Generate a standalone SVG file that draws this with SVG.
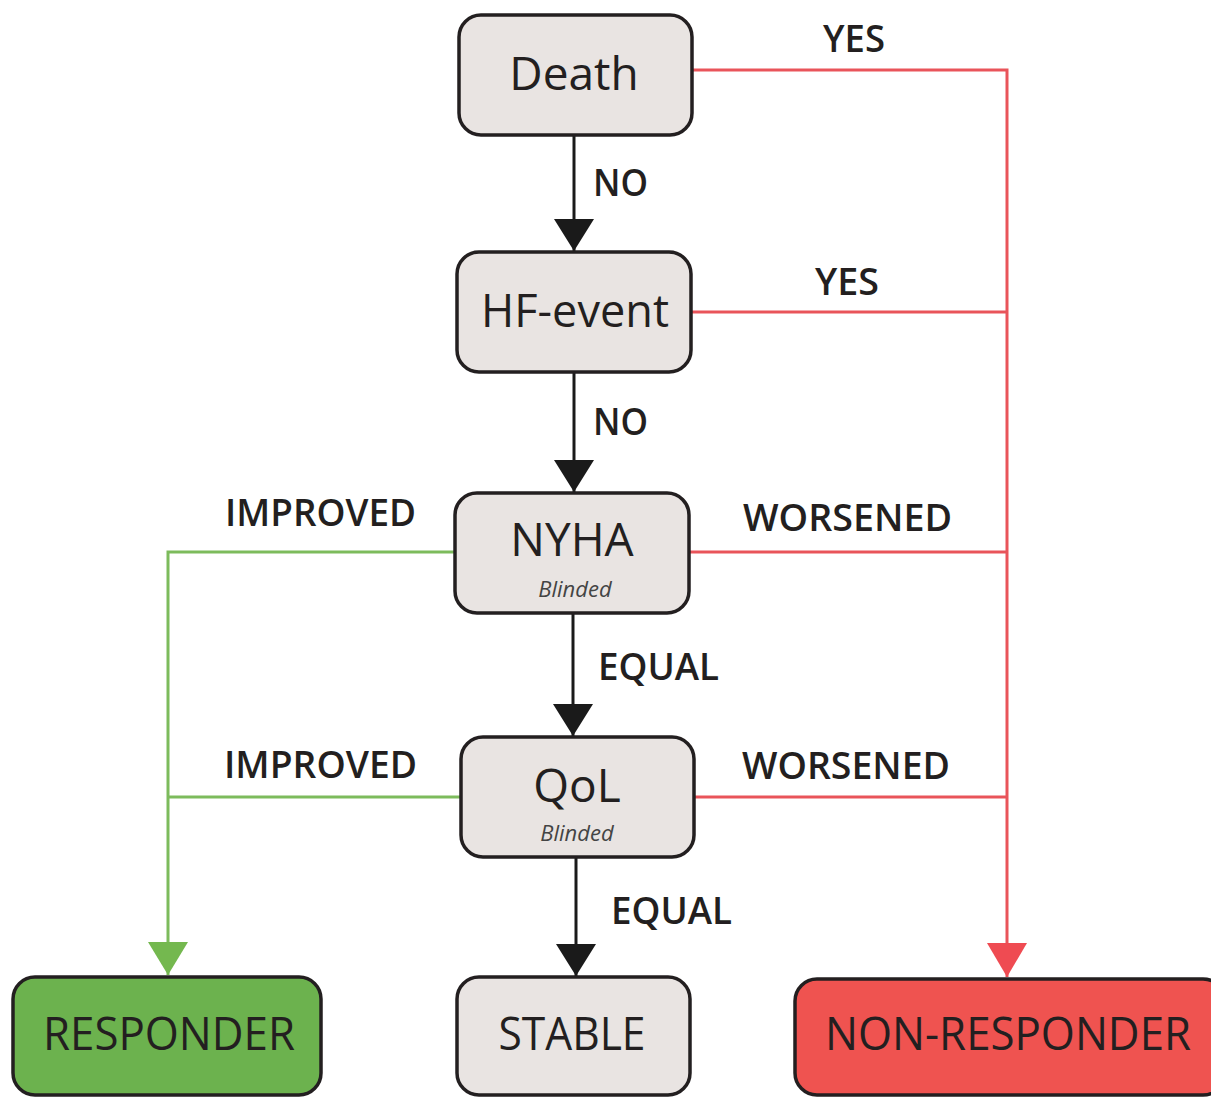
<svg xmlns="http://www.w3.org/2000/svg" width="1211" height="1097" viewBox="0 0 1211 1097">
<style>
.box{fill:#e9e4e2;stroke:#231f20;stroke-width:3.5}
.resp{fill:#6cb24e;stroke:#231f20;stroke-width:3.5}
.nonresp{fill:#ef5350;stroke:#231f20;stroke-width:3.5}
.t{font-family:"Open Sans","Noto Sans",sans-serif;fill:#231f20;text-anchor:middle}
.big{font-size:46px}
.small{font-size:22px;font-style:italic;fill:#444}
.lab{font-family:"Open Sans","Noto Sans",sans-serif;font-weight:600;font-size:37px;fill:#231f20}
.blk{stroke:#1a1a1a;stroke-width:3;fill:none}
.red{stroke:#e9545a;stroke-width:3;fill:none}
.grn{stroke:#7dbb5c;stroke-width:3;fill:none}
</style>
<defs>
<marker id="ab" viewBox="0 0 32 40" refX="32" refY="20" markerWidth="32" markerHeight="40" markerUnits="userSpaceOnUse" orient="auto"><path d="M0,0 L32,20 L0,40 Z" fill="#1a1a1a"/></marker>
<marker id="ar" viewBox="0 0 34 40" refX="34" refY="20" markerWidth="34" markerHeight="40" markerUnits="userSpaceOnUse" orient="auto"><path d="M0,0 L34,20 L0,40 Z" fill="#ef4b52"/></marker>
<marker id="ag" viewBox="0 0 33 40" refX="33" refY="20" markerWidth="33" markerHeight="40" markerUnits="userSpaceOnUse" orient="auto"><path d="M0,0 L33,20 L0,40 Z" fill="#74b84f"/></marker>
</defs>
<rect width="1211" height="1097" fill="#ffffff"/>
<g id="connectors">
<line class="blk" x1="574" y1="135" x2="574" y2="251" marker-end="url(#ab)"/>
<line class="blk" x1="574" y1="372" x2="574" y2="492" marker-end="url(#ab)"/>
<line class="blk" x1="573" y1="613" x2="573" y2="736" marker-end="url(#ab)"/>
<line class="blk" x1="576" y1="858" x2="576" y2="976" marker-end="url(#ab)"/>
<polyline class="red" points="692,70 1007,70 1007,977" marker-end="url(#ar)"/>
<line class="red" x1="691" y1="312" x2="1007" y2="312"/>
<line class="red" x1="690" y1="552" x2="1007" y2="552"/>
<line class="red" x1="695" y1="797" x2="1007" y2="797"/>
<polyline class="grn" points="454,552 168,552 168,975" marker-end="url(#ag)"/>
<line class="grn" x1="461" y1="797" x2="168" y2="797"/>
<text class="lab" x="823" y="52" textLength="62" lengthAdjust="spacingAndGlyphs">YES</text>
<text class="lab" x="593" y="196" textLength="55" lengthAdjust="spacingAndGlyphs">NO</text>
<text class="lab" x="815" y="295" textLength="64" lengthAdjust="spacingAndGlyphs">YES</text>
<text class="lab" x="593" y="435" textLength="55" lengthAdjust="spacingAndGlyphs">NO</text>
<text class="lab" x="225" y="526" textLength="191" lengthAdjust="spacingAndGlyphs">IMPROVED</text>
<text class="lab" x="743" y="531" textLength="209" lengthAdjust="spacingAndGlyphs">WORSENED</text>
<text class="lab" x="598" y="680" textLength="121" lengthAdjust="spacingAndGlyphs">EQUAL</text>
<text class="lab" x="224" y="778" textLength="193" lengthAdjust="spacingAndGlyphs">IMPROVED</text>
<text class="lab" x="742" y="779" textLength="208" lengthAdjust="spacingAndGlyphs">WORSENED</text>
<text class="lab" x="611" y="924" textLength="121" lengthAdjust="spacingAndGlyphs">EQUAL</text>
</g>
<g id="death"><rect class="box" x="459" y="15" width="233" height="120" rx="22"/><text class="t big" x="574" y="90">Death</text></g>
<g id="hf-event"><rect class="box" x="457" y="252" width="234" height="120" rx="22"/><text class="t big" x="575" y="327" textLength="188" lengthAdjust="spacingAndGlyphs">HF-event</text></g>
<g id="nyha"><rect class="box" x="455" y="493" width="234" height="120" rx="22"/><text class="t big" x="572" y="556">NYHA</text><text class="t small" x="575" y="597">Blinded</text></g>
<g id="qol"><rect class="box" x="461" y="737" width="233" height="120" rx="22"/><text class="t big" x="577" y="802">QoL</text><text class="t small" x="577" y="841">Blinded</text></g>
<g id="responder"><rect class="resp" x="13" y="977" width="308" height="118" rx="22"/><text class="t big" x="169" y="1050" textLength="252" lengthAdjust="spacingAndGlyphs">RESPONDER</text></g>
<g id="stable"><rect class="box" x="457" y="977" width="233" height="118" rx="22"/><text class="t big" x="572" y="1050" textLength="147" lengthAdjust="spacingAndGlyphs">STABLE</text></g>
<g id="non-responder"><rect class="nonresp" x="795" y="979" width="430" height="116" rx="22"/><text class="t big" x="1008" y="1050" textLength="366" lengthAdjust="spacingAndGlyphs">NON-RESPONDER</text></g>
</svg>
